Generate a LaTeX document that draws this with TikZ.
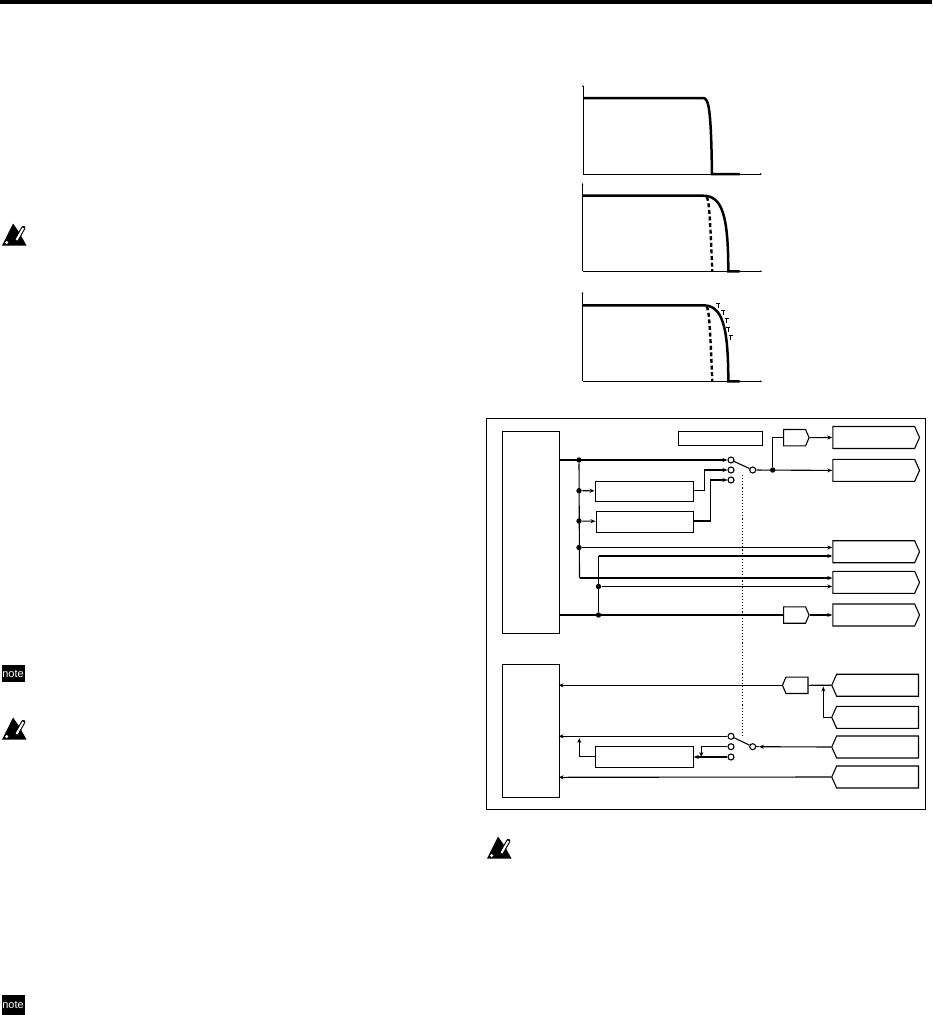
\documentclass[tikz,border=0pt]{standalone}
\usepackage{fontspec}
\setmainfont{Liberation Sans}
\usetikzlibrary{arrows.meta,shapes.symbols}
% iconos del margen
\newcommand{\aviso}[2]{%
  \fill (#1+2,#2+22.5) -- (#1+13,#2+0.5) -- (#1+19,#2+9) -- (#1+26.5,#2+22.5) -- cycle;
  \draw[line width=4.2pt, line cap=round] (#1+17.3,#2+15.7) -- (#1+23.3,#2+5);
  \draw[white, line width=2pt] (#1+16.5,#2+17) -- (#1+23.3,#2+5);
  \fill[white] (#1+6.7,#2+19.5) circle (1.7);
}
\begin{document}
\begin{tikzpicture}[x=1pt, y=-1pt, line width=1.1pt, font=\footnotesize,
  caja/.style={draw, rectangle, inner sep=0pt, anchor=north west},
  sal/.style={draw, signal, signal to=east, signal pointer angle=132, inner sep=0pt, minimum width=86.7pt, minimum height=22pt},
  ent/.style={draw, signal, signal to=west, signal pointer angle=132, inner sep=0pt, minimum width=86.7pt, minimum height=22pt},
  amp/.style={draw, signal, signal pointer angle=134, inner sep=0pt, minimum width=25.5pt, minimum height=16.4pt},
  pto/.style={circle, fill, inner sep=0pt, minimum size=5.4pt},
  term/.style={circle, draw, fill=white, inner sep=0pt, minimum size=6pt},
  nota/.style={fill=black, text=white, inner sep=0pt, minimum width=23pt, minimum height=17pt, font=\fontsize{11}{11}\selectfont},
  fl/.style={-{Stealth[length=5pt, width=4pt]}},
  eje/.style={line width=0.7pt, -{Stealth[length=2.2pt, width=1.8pt]}},
  curva/.style={line width=2.5pt},
  corte/.style={line width=2.4pt, dash pattern=on 4pt off 2.6pt}]
  \useasboundingbox (0,0) rectangle (932,1015);
  \fill (0,0) rectangle (932,4);
  % graficas
  \draw[eje] (583,174) -- (583,85);
  \draw[eje] (583,174) -- (762,174);
  \draw[curva] (583,98) -- (703,98) .. controls (709,98) and (711,110) .. (712,174) -- (740,174);
  \draw[eje] (582.5,271.3) -- (582.5,183);
  \draw[eje] (582.5,271.3) -- (762,271.3);
  \draw[curva] (582.5,195.7) -- (703,195.7) .. controls (722,195.7) and (728.3,215) .. (728.3,271.3) -- (739.5,271.3);
  \draw[corte] (706.7,197) .. controls (709,200) and (710,215) .. (712.3,271.3);
  \draw[eje] (582.5,381.3) -- (582.5,292);
  \draw[eje] (582.5,381.3) -- (762,381.3);
  \draw[curva] (582.5,305.3) -- (703,305.3) .. controls (722,305.3) and (728.3,325) .. (728.3,381.3) -- (739.5,381.3);
  \draw[corte] (706.7,306.5) .. controls (709,310) and (710,325) .. (712.3,381.3);
  \foreach \tx/\ty in {718.3/303.5, 723.3/310, 726.7/318, 728.3/327, 730.7/335}
    \draw[line width=0.9pt] (\tx,\ty+4.5) -- (\tx,\ty) (\tx-2,\ty) -- (\tx+2,\ty);
  % marco
  \node[caja, minimum width=439pt, minimum height=391pt] (marco) at (486,418) {};
  \node[caja, minimum width=57pt, minimum height=202pt] (dsp) at (501.5,431) {};
  \node[caja, minimum width=84pt, minimum height=13.5pt] (rotulo) at (678,431) {};
  \node[caja, minimum width=98pt, minimum height=20.5pt] (filtA) at (594.5,480.5) {};
  \node[caja, minimum width=97pt, minimum height=20.5pt] (filtB) at (595.5,511) {};
  \node[caja, minimum width=57pt, minimum height=133pt] (adc) at (501.5,664.3) {};
  \node[caja, minimum width=97.4pt, minimum height=21pt] (filtC) at (595.3,746.3) {};
  % salidas
  \node[sal, anchor=west] (sal1) at (832.3,437.5) {};
  \node[sal, anchor=west] (sal2) at (832.3,470.4) {};
  \node[sal, anchor=west] (sal3) at (832.3,551.7) {};
  \node[sal, anchor=west] (sal4) at (832.3,582.3) {};
  \node[sal, anchor=west] (sal5) at (832.3,615) {};
  \node[amp, signal to=east, anchor=west] (ampA) at (783,437.7) {};
  \node[amp, signal to=east, anchor=west] (ampB) at (783,615) {};
  % entradas
  \node[ent, anchor=east] (ent1) at (919,685.2) {};
  \node[ent, anchor=east] (ent2) at (919,717.3) {};
  \node[ent, anchor=east] (ent3) at (919,747) {};
  \node[ent, anchor=east] (ent4) at (919,777) {};
  \node[amp, signal to=west, anchor=east] (ampC) at (808.5,685.3) {};
  % conmutadores
  \node[term] (s1a) at (731,460) {};
  \node[term] (s1b) at (731,470) {};
  \node[term] (s1c) at (731,480) {};
  \node[term] (s1p) at (752.7,470) {};
  \node[term] (s2a) at (731,736.3) {};
  \node[term] (s2b) at (731,746.7) {};
  \node[term] (s2c) at (731,757) {};
  \node[term] (s2p) at (752.7,746.7) {};
  \draw (s1a) -- (s1p);
  \draw (s2a) -- (s2p);
  \coordinate (enl1) at (742.3,475);
  \coordinate (enl2) at (742.3,736);
  \draw[dotted] (enl1) -- (enl2);
  % puntos
  \node[pto] (p1) at (579,460) {};
  \node[pto] (p2) at (579,490.7) {};
  \node[pto] (p3) at (579,521) {};
  \node[pto] (p4) at (579,547.5) {};
  \coordinate (p5) at (579.5,578);
  \coordinate (q1) at (598.5,556);
  \node[pto] (q2) at (598.5,586.5) {};
  \node[pto] (q3) at (598.5,615) {};
  \node[pto] (p6) at (772.7,470) {};
  \coordinate (c1) at (558.5,460);
  \coordinate (c2) at (558.5,615);
  % senal de ida
  \draw[fl] (c1) -- (s1a);
  \draw (p1) -- (p5);
  \draw[fl] (p2) -- (filtA);
  \draw[fl] (p3) -- (filtB);
  \draw[fl] (filtA.east |- p2) -- ++(10.5,0) |- (s1b);
  \draw[fl] (filtB.east |- p3) -- ++(17,0) |- (s1c);
  \draw (q1) -- (q3);
  \draw (c2) -- (ampB);
  \draw[fl] (ampB) -- (sal5);
  \draw[fl] (s1p) -- (sal2.west);
  \draw (p6) |- (ampA);
  \draw[fl] (ampA) -- (sal1.west);
  \draw[fl] (p4) -- (sal3.west |- p4);
  \draw[fl] (q1) -- (sal3.west |- q1);
  \draw[fl] (p5) -- (sal4.west |- p5);
  \draw[fl] (q2) -- (sal4.west |- q2);
  % senal de vuelta
  \coordinate (d1) at (558.5,685.3);
  \coordinate (d2) at (558.5,736.3);
  \coordinate (d3) at (558.5,777.3);
  \coordinate (b1) at (579.3,738);
  \coordinate (b2) at (701.3,746.7);
  \coordinate (b3) at (701.3,757);
  \coordinate (b4) at (823.3,686.5);
  \coordinate (b5) at (759,746.7);
  \draw[fl] (ampC) -- (d1);
  \draw (ent1.west) -- (ampC.east);
  \draw[fl] (ent2.west) -| (b4);
  \draw[fl] (s2a) -- (d2);
  \draw[fl] (filtC.west |- 0,756.3) -| (b1);
  \draw[fl] (s2c) -- (filtC.east |- s2c);
  \draw (s2b) -- (b2);
  \draw[fl] (b2) -- (b3);
  \draw[fl] (ent3.west) -- (b5);
  \draw (b5) -- (s2p);
  \draw[fl] (ent4.west) -- (d3);
  % iconos
  \aviso{0}{223}
  \aviso{0}{717}
  \aviso{485}{836}
  \node[nota] (nota1) at (13,673.5) {note};
  \node[nota, minimum height=20pt] (nota2) at (13,1005) {note};
\end{tikzpicture}
\end{document}
